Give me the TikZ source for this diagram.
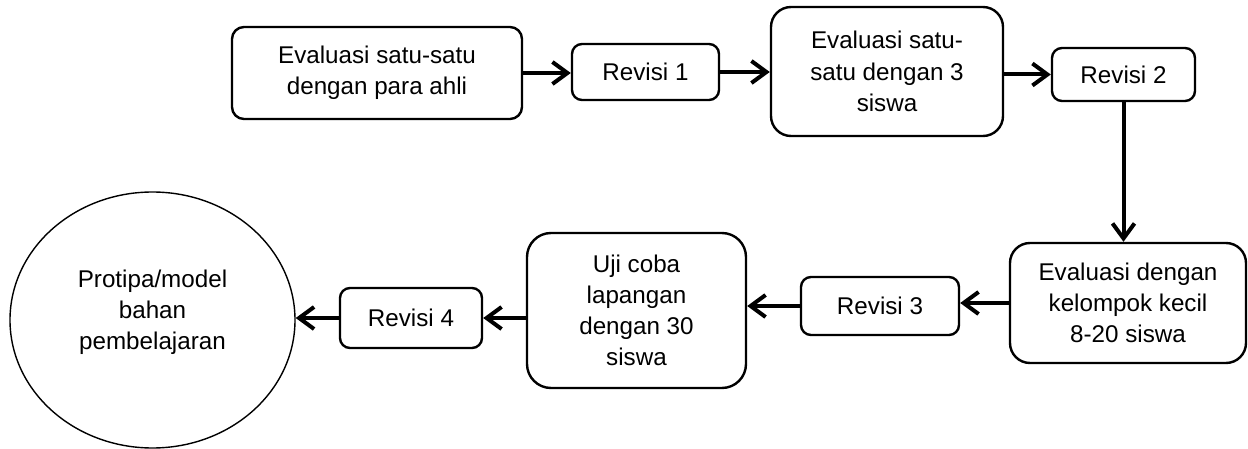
\documentclass[tikz,border=0pt]{standalone}
\usepackage{fontspec}
\setmainfont{Liberation Sans}
\usetikzlibrary{arrows.meta,shapes.geometric}

\tikzset{
  stage/.style={draw,line width=1.2pt,rounded corners=10pt,align=center,inner sep=2pt},
  revbox/.style={draw,line width=1.2pt,rounded corners=5pt,align=center,inner sep=2pt},
  flow/.style={line width=2pt,-{Straight Barb[length=7.5pt,width=11pt]}},
}

\begin{document}
\begin{tikzpicture}[x=0.5pt,y=-0.5pt,font=\fontsize{12.1}{15.6}\selectfont]
    \useasboundingbox (0,0) rectangle (1248,449);
    %% top row
    \node[stage,rounded corners=6pt,minimum width=145pt,minimum height=46pt]
        (ahli) at (377,73) {Evaluasi satu-satu\\dengan para ahli};
    \node[revbox,minimum width=73.5pt,minimum height=28pt]
        (rev1) at (645.5,72) {Revisi 1};
    \node[stage,minimum width=116pt,minimum height=64.5pt]
        (tiga) at (887,71.5) {Evaluasi satu-\\satu dengan 3\\siswa};
    \node[revbox,minimum width=71.5pt,minimum height=26.5pt]
        (rev2) at (1123.5,74.5) {Revisi 2};
    %% bottom row
    \node[stage,minimum width=118pt,minimum height=60pt]
        (kecil) at (1128,303) {Evaluasi dengan\\kelompok kecil\\8-20 siswa};
    \node[revbox,minimum width=79pt,minimum height=29pt]
        (rev3) at (880,306) {Revisi 3};
    \node[stage,rounded corners=12pt,minimum width=109.5pt,minimum height=77.5pt]
        (lapangan) at (636.5,310.5) {Uji coba\\lapangan\\dengan 30\\siswa};
    \node[revbox,minimum width=71pt,minimum height=30pt]
        (rev4) at (411,318) {Revisi 4};
    %% prototype
    \node[draw,ellipse,line width=0.7pt,inner sep=0pt,align=center,
          minimum width=142.5pt,minimum height=128pt]
        (model) at (152.5,320) {Protipa/model\\bahan\\pembelajaran\\[-5.6pt]};
    %% arrows
    \draw[flow] (ahli.east) -- (rev1.west |- ahli.east);
    \draw[flow] (rev1.east) -- (tiga.west |- rev1.east);
    \draw[flow] (tiga.east |- rev2.west) -- (rev2.west);
    \draw[flow] (rev2.south) -- (rev2.south |- kecil.north);
    \draw[flow] (kecil.west) -- (rev3.east |- kecil.west);
    \draw[flow] (rev3.west) -- (lapangan.east |- rev3.west);
    \draw[flow] (lapangan.west |- rev4.east) -- (rev4.east);
    \draw[flow] (rev4.west) -- (model.east |- rev4.west);
\end{tikzpicture}
\end{document}
